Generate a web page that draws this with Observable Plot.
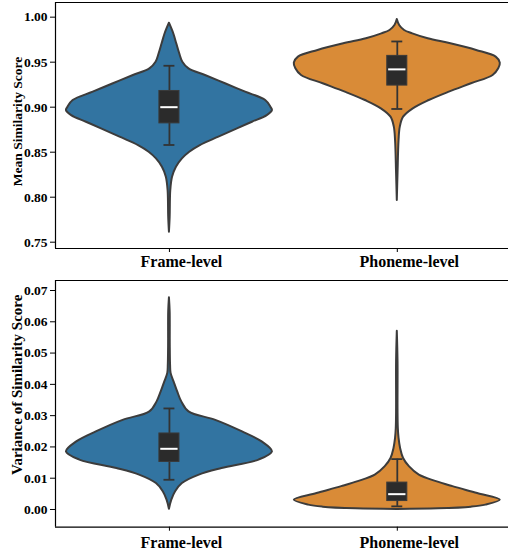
<!DOCTYPE html>
<html><head><meta charset="utf-8">
<script src="https://cdn.jsdelivr.net/npm/d3@7"></script>
<script src="https://cdn.jsdelivr.net/npm/@observablehq/plot@0.6"></script>
<style>body{margin:0;background:#fff;} svg{display:block;}</style>
</head><body><div id="chart"></div>
<script>
const categories = ["Frame-level", "Phoneme-level"];
const colors = ["#3274a1", "#d98b37"];

// Panel 1: Mean Similarity Score — violin profiles (value, relative half-width)
const meanFrameV = [0.7611, 0.7778, 0.8074, 0.8222, 0.8333, 0.8426, 0.8500, 0.8574, 0.8667, 0.8759, 0.8833, 0.8907, 0.8963, 0.9000, 0.9074, 0.9167, 0.9260, 0.9352, 0.9426, 0.9500, 0.9593, 0.9704, 0.9816, 0.9933];
const meanFrameW = [0, 0.007, 0.013, 0.03, 0.068, 0.126, 0.197, 0.30, 0.48, 0.66, 0.806, 0.95, 1.0, 0.985, 0.935, 0.74, 0.544, 0.35, 0.19, 0.13, 0.10, 0.071, 0.042, 0];
const meanPhonV = [0.7963, 0.826, 0.863, 0.8778, 0.8889, 0.8982, 0.9074, 0.9167, 0.926, 0.9352, 0.9426, 0.9489, 0.9556, 0.963, 0.9704, 0.976, 0.9815, 0.9852, 0.9907, 0.9974];
const meanPhonW = [0, 0.007, 0.017, 0.029, 0.061, 0.155, 0.31, 0.505, 0.72, 0.93, 0.985, 1.0, 0.96, 0.77, 0.52, 0.30, 0.15, 0.071, 0.023, 0];
const meanQ1 = [0.882, 0.924];
const meanMed = [0.900, 0.942];
const meanQ3 = [0.918, 0.957];
const meanLo = [0.858, 0.898];
const meanHi = [0.946, 0.973];
const meanTicks = [0.75, 0.80, 0.85, 0.90, 0.95, 1.00];

// Panel 2: Variance of Similarity Score
const varFrameV = [0.0001, 0.0030, 0.0057, 0.0083, 0.0110, 0.0131, 0.0158, 0.0184, 0.0216, 0.0248, 0.0285, 0.0312, 0.0344, 0.0376, 0.0408, 0.0435, 0.0461, 0.0525, 0.0632, 0.0677];
const varFrameW = [0, 0.023, 0.06, 0.126, 0.29, 0.51, 0.87, 1.0, 0.90, 0.71, 0.45, 0.19, 0.12, 0.08, 0.045, 0.016, 0.011, 0.008, 0.007, 0];
const varPhonV = [0, 0.0002, 0.00074, 0.0014, 0.0030, 0.0051, 0.0073, 0.0089, 0.0110, 0.0137, 0.0163, 0.0195, 0.0227, 0.0259, 0.0312, 0.0472, 0.0570];
const varPhonW = [0, 0.40, 0.72, 0.86, 1.0, 0.78, 0.54, 0.38, 0.214, 0.117, 0.061, 0.032, 0.017, 0.010, 0.007, 0.007, 0];
const varQ1 = [0.0152, 0.0027];
const varMed = [0.0194, 0.0049];
const varQ3 = [0.0243, 0.0086];
const varLo = [0.0095, 0.0010];
const varHi = [0.0323, 0.0161];
const varTicks = [0.00, 0.01, 0.02, 0.03, 0.04, 0.05, 0.06, 0.07];

const S = 0.452, boxW = 0.044, capW = 0.024, medW = 0.038;
const font = "'Liberation Serif', 'Times New Roman', serif";

function panel(o) {
  const violins = o.profiles.flatMap(([vals, dens], i) => vals.map((v, k) => ({i, cat: categories[i], v, w: dens[k]})));
  const boxes = categories.map((cat, i) => ({i, cat, q1: o.q1[i], med: o.med[i], q3: o.q3[i], lo: o.lo[i], hi: o.hi[i]}));
  return Plot.plot({
    width: 508, height: o.height, marginTop: o.marginTop, marginBottom: o.marginBottom, marginLeft: 55, marginRight: 0,
    style: {fontFamily: font, fontWeight: "bold", background: "#fff", color: "#000"},
    x: {domain: [-0.5, 1.488]},
    y: {domain: o.yDomain},
    color: {domain: categories, range: colors},
    marks: [
      Plot.areaX(violins, {y: "v", x1: d => d.i - d.w * S, x2: d => d.i + d.w * S, z: "cat", fill: "cat", stroke: "#3c3c3c", strokeWidth: 2, strokeLinejoin: "round", curve: "catmull-rom"}),
      Plot.ruleX(boxes, {x: "i", y1: "lo", y2: "hi", stroke: "#333", strokeWidth: 1.8}),
      Plot.ruleY(boxes, {y: "lo", x1: d => d.i - capW, x2: d => d.i + capW, stroke: "#333", strokeWidth: 1.8}),
      Plot.ruleY(boxes, {y: "hi", x1: d => d.i - capW, x2: d => d.i + capW, stroke: "#333", strokeWidth: 1.8}),
      Plot.rect(boxes, {x1: d => d.i - boxW, x2: d => d.i + boxW, y1: "q1", y2: "q3", fill: "#2b2b2b", stroke: "#3a3a3a", strokeWidth: 1}),
      Plot.ruleY(boxes, {y: "med", x1: d => d.i - medW, x2: d => d.i + medW, stroke: "#fff", strokeWidth: 2}),
      Plot.ruleX([-0.5], {stroke: "#000", strokeWidth: 1.2}),
      Plot.ruleY([o.yDomain[0], o.yDomain[1]], {stroke: "#000", strokeWidth: 1.2}),
      Plot.axisY({ticks: o.ticks, tickFormat: d3.format(".2f"), tickSize: 5, tickPadding: 3, fontSize: 13.5, label: null}),
      Plot.axisX({ticks: [0, 1], tickFormat: () => "", tickSize: 4, label: null}),
      Plot.axisX({ticks: [0, 1], tickFormat: i => categories[i], tickSize: 0, tickPadding: o.xPad, dx: 12, fontSize: 16, label: null}),
      Plot.text([o.title], {frameAnchor: "left", textAnchor: "middle", lineAnchor: "middle", rotate: -90, dx: -38, dy: o.titleDy, fontSize: o.titleSize, fontWeight: "bold"})
    ]
  });
}

const chart = document.getElementById("chart");
chart.append(panel({
  height: 276, marginTop: 2, marginBottom: 28,
  yDomain: [0.743, 1.0163], ticks: meanTicks, xPad: 7,
  profiles: [[meanFrameV, meanFrameW], [meanPhonV, meanPhonW]],
  q1: meanQ1, med: meanMed, q3: meanQ3, lo: meanLo, hi: meanHi,
  title: "Mean Similarity Score", titleSize: 13.5, titleDy: -4
}));
chart.append(panel({
  height: 277, marginTop: 4, marginBottom: 26.3,
  yDomain: [-0.00566, 0.0732], ticks: varTicks, xPad: 9,
  profiles: [[varFrameV, varFrameW], [varPhonV, varPhonW]],
  q1: varQ1, med: varMed, q3: varQ3, lo: varLo, hi: varHi,
  title: "Variance of Similarity Score", titleSize: 15, titleDy: -19
}));
</script>
</body></html>
